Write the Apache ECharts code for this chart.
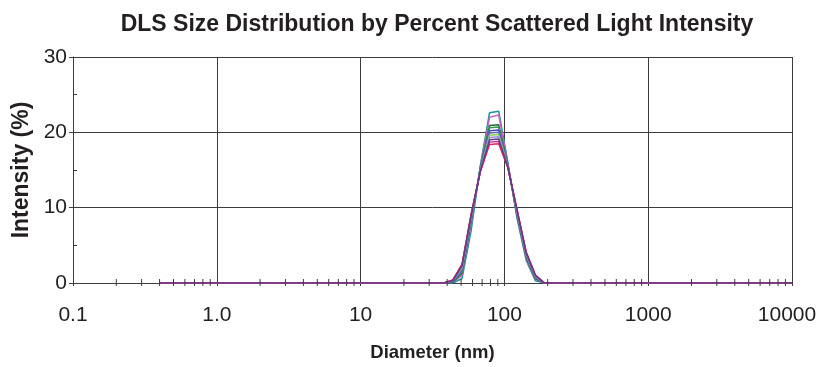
<!DOCTYPE html>
<html>
<head>
<meta charset="utf-8">
<title>DLS Size Distribution</title>
<script src="https://cdn.jsdelivr.net/npm/echarts@6/dist/echarts.min.js"></script>
<style>
  html, body { margin: 0; padding: 0; background: #fff; }
  #chart { width: 822px; height: 367px; }
</style>
</head>
<body>
<div id="chart"></div>
<script>
// size bins (nm), Malvern style
const sizes = [0.4, 0.4632, 0.5365, 0.6213, 0.7195, 0.8332, 0.9649, 1.117, 1.294, 1.499,
  1.736, 2.01, 2.328, 2.696, 3.122, 3.615, 4.187, 4.849, 5.615, 6.503,
  7.531, 8.721, 10.1, 11.7, 13.54, 15.69, 18.17, 21.04, 24.36, 28.21,
  32.67, 37.84, 43.82, 50.75, 58.77, 68.06, 78.82, 91.28, 105.7, 122.4,
  141.8, 164.2, 190.1, 220.2, 255.0, 295.3, 342.0, 396.1, 458.7, 531.2,
  615.1, 712.4, 825.0, 955.4, 1106, 1281, 1484, 1718, 1990, 2305,
  2669, 3091, 3580, 4145, 4801, 5560, 6439, 7456, 8635, 10000];

// non-zero part of each run starts at bin 32 (43.82 nm); all other bins are 0
const peakStart = 32;
const runTeal     = [0.0, 0.6, 7.0, 15.6, 22.6, 22.8, 16.0, 8.6, 3.0, 0.3];
const runOrchid   = [0.1, 1.0, 7.8, 15.4, 22.0, 22.3, 15.8, 8.8, 3.2, 0.5];
const runDkGreen  = [0.1, 1.3, 8.2, 15.3, 20.9, 21.0, 15.7, 9.0, 3.4, 0.6];
const runGreen    = [0.2, 1.5, 8.4, 15.2, 20.6, 20.7, 15.6, 9.1, 3.5, 0.7];
const runBlue     = [0.2, 1.7, 8.6, 15.1, 20.2, 20.3, 15.6, 9.2, 3.6, 0.8];
const runSlate    = [0.2, 1.8, 8.7, 15.0, 19.9, 20.0, 15.5, 9.3, 3.7, 0.8];
const runLtGreen  = [0.3, 2.0, 8.8, 15.0, 19.6, 19.7, 15.5, 9.4, 3.8, 0.9];
const runLavender = [0.3, 2.1, 8.9, 14.9, 19.3, 19.4, 15.4, 9.5, 3.9, 0.9];
const runMagenta  = [0.4, 2.4, 9.1, 14.8, 18.7, 18.8, 15.4, 9.7, 4.0, 1.0];
const runCrimson  = [0.4, 2.5, 9.2, 14.8, 18.4, 18.5, 15.3, 9.8, 4.1, 1.1];
const runPurple   = [0.3, 2.3, 9.0, 14.9, 19.0, 19.1, 15.4, 9.6, 4.0, 1.0];

const runs = [
  {vals: runTeal, color: '#1b9494'},
  {vals: runOrchid, color: '#c764c7'},
  {vals: runDkGreen, color: '#1e6b3c'},
  {vals: runGreen, color: '#3a9a4a'},
  {vals: runBlue, color: '#4b4bd0'},
  {vals: runSlate, color: '#6a6ab8'},
  {vals: runLtGreen, color: '#84d05a'},
  {vals: runLavender, color: '#a08ad8'},
  {vals: runMagenta, color: '#c4268c'},
  {vals: runCrimson, color: '#e3245c'},
  {vals: runPurple, color: '#5b3f8c'}
];

// minor ticks on the log axis
const minorX = [];
[0.1, 1, 10, 100, 1000].forEach(d => {
  for (let k = 2; k <= 9; k++) minorX.push(+(k * d).toPrecision(3));
});

const textColor = '#231f20';
const gridColor = '#3c3c3c';
const font = 'Liberation Sans, Arial, sans-serif';

const chart = echarts.init(document.getElementById('chart'));

const series = runs.map(r => ({
  type: 'line',
  data: sizes.map((s, i) => {
    const v = r.vals[i - peakStart];
    return [s, v === undefined ? 0 : v];
  }),
  showSymbol: false,
  symbol: 'none',
  lineStyle: {color: r.color, width: 1.5},
  itemStyle: {color: r.color},
  z: 3
}));

series.push({
  type: 'custom',
  clip: false,
  z: 4,
  data: minorX.map(v => [v, 0]),
  renderItem(params, api) {
    const p = api.coord([api.value(0), 0]);
    return {
      type: 'line',
      shape: {x1: p[0], y1: p[1] - 4, x2: p[0], y2: p[1] + 3},
      style: {stroke: gridColor, lineWidth: 1}
    };
  }
});

chart.setOption({
  animation: false,
  backgroundColor: '#fff',
  textStyle: {fontFamily: font},
  title: {
    text: 'DLS Size Distribution by Percent Scattered Light Intensity',
    left: 432,
    textAlign: 'center',
    top: 8,
    textStyle: {fontSize: 23, fontWeight: 'bold', color: textColor, fontFamily: font}
  },
  grid: {left: 73, right: 30, top: 57, bottom: 83},
  xAxis: {
    type: 'log',
    logBase: 10,
    min: 0.1,
    max: 10000,
    name: 'Diameter (nm)',
    nameLocation: 'middle',
    nameGap: 60,
    nameTextStyle: {fontSize: 18.5, fontWeight: 'bold', color: textColor},
    axisLine: {show: true, lineStyle: {color: gridColor, width: 1}},
    axisTick: {show: true, length: 3, lineStyle: {color: gridColor}},
    axisLabel: {
      fontSize: 21,
      color: textColor,
      margin: 22,
      formatter(v) {
        if (v < 0.5) return '0.1';
        if (v < 5) return '1.0';
        if (v > 5000) return '{last|10000}';
        return String(Math.round(v));
      },
      rich: {
        last: {fontSize: 21, color: textColor, padding: [0, 10, 0, 0]}
      }
    },
    splitLine: {show: true, lineStyle: {color: gridColor, width: 1}}
  },
  yAxis: [{
    type: 'value',
    min: 0,
    max: 30,
    interval: 10,
    name: 'Intensity (%)',
    nameLocation: 'middle',
    nameGap: 38,
    nameTextStyle: {fontSize: 23, fontWeight: 'bold', color: textColor},
    axisLine: {show: true, lineStyle: {color: gridColor, width: 1}},
    axisTick: {show: true, length: 4, lineStyle: {color: gridColor}},
    axisLabel: {fontSize: 21, color: textColor, margin: 6},
    splitLine: {show: true, lineStyle: {color: gridColor, width: 1}}
  }, {
    type: 'value',
    position: 'left',
    min: 0,
    max: 30,
    interval: 10,
    axisLine: {show: false},
    axisLabel: {show: false},
    splitLine: {show: false},
    axisTick: {show: true, inside: true, length: 4, lineStyle: {color: gridColor}},
    minorTick: {show: true, splitNumber: 2, length: 4, lineStyle: {color: gridColor}}
  }],
  series: series
});
</script>
</body>
</html>
